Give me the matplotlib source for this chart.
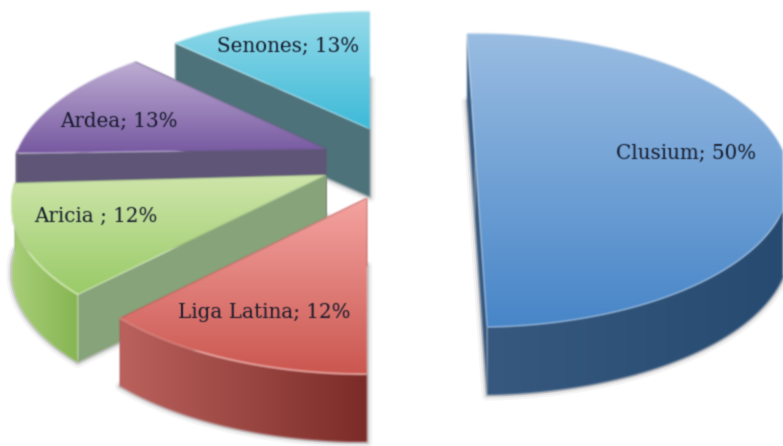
import numpy as np
import matplotlib
matplotlib.use('Agg')
import matplotlib.pyplot as plt
from matplotlib.patches import Polygon
from matplotlib.colors import to_rgb

names = ['Senones', 'Ardea', 'Aricia ', 'Liga Latina', 'Clusium']
shares = [13, 13, 12, 12, 50]
start_pct = [87.2, 74.5, 62.1, 50.0, -0.5]    # where each slice begins, percent clockwise from the back

# look of the slices
apex = [(370, 129), (326, 149), (326, 175), (367, 198), (475, 151)]
top_cols = [('#97dbea', '#3dbad8'), ('#bfaed4', '#7759a1'), ('#cfe6ab', '#9acb68'),
            ('#f5a5a2', '#cb5750'), ('#9abde2', '#4886c8')]
side_cols = [('#4e727a', '#4e727a'), ('#5f5777', '#5f5777'), ('#a9cf78', '#86b552'),
             ('#bb625d', '#7c2c28'), ('#37597f', '#264a70')]
cut_cols = ['#4e727a', '#5f5777', '#87a37a', '#a85450', '#35587f']
edge_cols = [None, None, '#dcefb8', '#f7b0ac', None]
label_xy = [(288, 46), (119, 121), (96, 216), (264, 312), (686, 153)]

R = 308
K = 141
PERSP = 0.2
DEPTH = 68


def smooth(img, kern):
    # premultiplied so the edges do not pick up the empty layer colour
    a = img[:, :, 3:]
    out = np.concatenate((img[:, :, :3] * a, a), axis=2)
    pad = len(kern) // 2 + 2
    out = np.pad(out, ((pad, pad), (pad, pad), (0, 0)))
    for n in (0, 1):
        out = sum(k * np.roll(out, i - len(kern) // 2, axis=n) for i, k in enumerate(kern))
    al = out[:, :, 3:]
    out[:, :, :3] = np.where(al > 1e-4, out[:, :, :3] / np.maximum(al, 1e-4), 0)
    return np.clip(out, 0, 1), -pad, -pad


def blur(img, dpi):
    return smooth(img, np.array([1, 4, 6, 4, 1]) / 16)


def blur_text(img, dpi):
    return smooth(img, np.array([1, 3, 1]) / 5)


def project(c, theta):
    d = -np.cos(theta)
    s = 1 / (1 - PERSP * d)
    return np.column_stack((c[0] + R * np.sin(theta) * s, c[1] + K * d * s))


def gradient(ax, poly, c0, c1, vertical, z):
    patch = Polygon(poly, closed=True, fc='none', ec='none', zorder=z)
    ax.add_patch(patch)
    t = np.linspace(0, 1, 256)[:, None]
    arr = t[:, :, None] * np.array(to_rgb(c1)) + (1 - t[:, :, None]) * np.array(to_rgb(c0))
    if not vertical:
        arr = arr.transpose(1, 0, 2)
    x0, y0 = poly.min(axis=0)
    x1, y1 = poly.max(axis=0)
    im = ax.imshow(arr, extent=[x0, x1, y1, y0], aspect='auto', zorder=z, interpolation='bilinear')
    im.set_clip_path(patch)
    im.set_agg_filter(blur)


fig = plt.figure(figsize=(7.83, 4.46), dpi=100)
ax = fig.add_axes([0, 0, 1, 1])

z = 1
for i in range(len(names)):
    th0 = np.radians(start_pct[i] * 3.6)
    th1 = np.radians(min(start_pct[i] + shares[i], 100.0) * 3.6)
    arc = project(apex[i], np.linspace(th0, th1, 80))
    c = np.array(apex[i], dtype=float)
    down = np.array([0, DEPTH])
    top = np.vstack((c, arc))

    # soft shadow round the underside
    for lw, al in ((8, 0.06), (5, 0.10), (2.5, 0.16)):
        ax.add_patch(Polygon(top + down, closed=True, fc='none', ec='#555560', lw=lw,
                             alpha=al, joinstyle='round', zorder=z))
    z += 1
    # cut faces, hidden one first
    for a in (arc[-1], arc[0]):
        face = np.array([c, a, a + down, c + down])
        ax.add_patch(Polygon(face, closed=True, fc=cut_cols[i], ec='none',
                             zorder=z, agg_filter=blur))
        z += 1
    # outer wall only on the part of the rim that faces the viewer
    f0, f1 = max(th0, np.pi / 2), min(th1, 1.5 * np.pi)
    if f1 > f0:
        rim = project(apex[i], np.linspace(f0, f1, 80))
        wall = np.vstack((rim, rim[::-1] + down))
        gradient(ax, wall, side_cols[i][0], side_cols[i][1], False, z)
        z += 1
    gradient(ax, top, top_cols[i][0], top_cols[i][1], True, z)
    z += 1
    if edge_cols[i] and f1 > f0:
        ax.plot(rim[:, 0], rim[:, 1], color=edge_cols[i], lw=1.2, alpha=0.5, zorder=z,
                agg_filter=blur)
        z += 1

for i in range(len(names)):
    ax.text(label_xy[i][0], label_xy[i][1], '%s; %d%%' % (names[i], shares[i]), ha='center',
            va='center', fontsize=14.3, color='#14192a', family='DejaVu Serif',
            zorder=z, agg_filter=blur_text)

ax.set_xlim(0, 783)
ax.set_ylim(446, 0)
ax.axis('off')
fig.savefig('out.png', dpi=100, facecolor='white')
